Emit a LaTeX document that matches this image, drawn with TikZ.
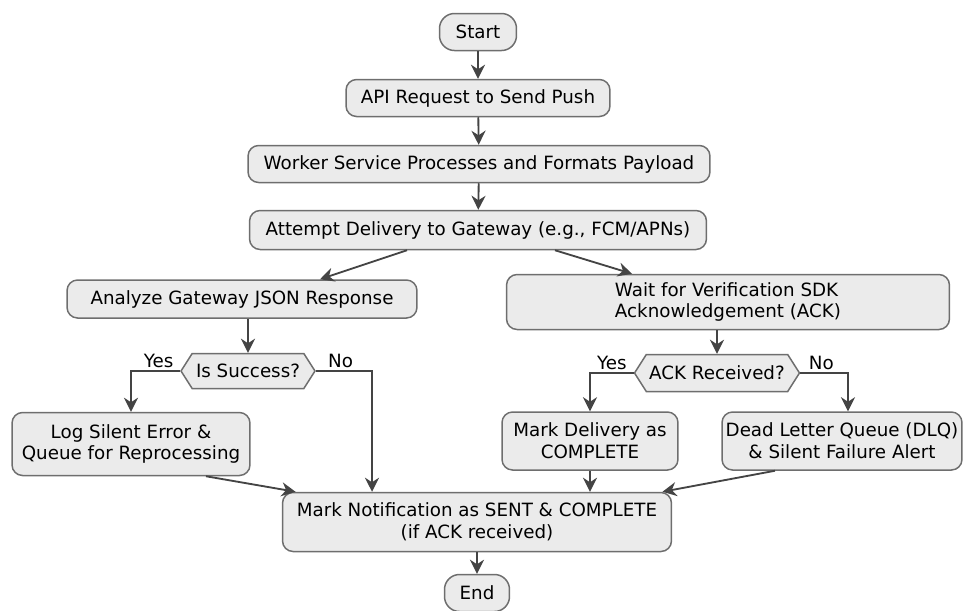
\documentclass[tikz,border=0pt]{standalone}
\usepackage{fontspec}
\setmainfont{DejaVu Sans}
\usetikzlibrary{arrows.meta,shapes.symbols}

\definecolor{boxfill}{HTML}{EBEBEB}
\definecolor{boxline}{HTML}{6E6E6E}
\definecolor{arrowline}{HTML}{444444}

\tikzset{
  stepbox/.style={draw=boxline, fill=boxfill, line width=0.85pt, rounded corners=6pt,
    align=center, inner sep=0pt},
  decision/.style={draw=boxline, fill=boxfill, line width=0.85pt, shape=signal,
    signal to=east and west, signal pointer angle=115, inner sep=0pt},
  flow/.style={draw=arrowline, line width=1.05pt, -{Stealth[length=8pt,width=8pt]}},
  branch/.style={above, inner sep=1.5pt}
}

\begin{document}
\begin{tikzpicture}[x=0.02cm, y=-0.02cm, font=\fontsize{10.4}{12.4}\selectfont]
        % Fix the page size
        \useasboundingbox (0,0) rectangle (965,610);

        % Main steps
        \node[stepbox, rounded corners=0.3cm, minimum width=1.54cm, minimum height=0.74cm] (start) at (478,32) {Start};
        \node[stepbox, minimum width=5.28cm, minimum height=0.74cm] (api) at (478,98) {API Request to Send Push};
        \node[stepbox, minimum width=9.24cm, minimum height=0.74cm] (worker) at (479,164) {Worker Service Processes and Formats Payload};
        \node[stepbox, minimum width=9.14cm, minimum height=0.78cm] (attempt) at (478,230) {Attempt Delivery to Gateway (e.g., FCM/APNs)};

        % Gateway branch
        \node[stepbox, minimum width=7.0cm, minimum height=0.76cm] (analyze) at (242,299) {Analyze Gateway JSON Response};
        \node[decision, minimum width=2.68cm, minimum height=0.7cm] (success) at (248,371) {Is Success?};
        \node[stepbox, minimum width=4.76cm, minimum height=1.26cm] (logerr) at (131,444) {Log Silent Error \&\\Queue for Reprocessing};

        % Verification branch
        \node[stepbox, align=left, minimum width=8.86cm, minimum height=1.1cm] (wait) at (728,302) {Wait for Verification SDK\\Acknowledgement (ACK)};
        \node[decision, minimum width=3.3cm, minimum height=0.74cm] (ack) at (717,373) {ACK Received?};
        \node[stepbox, minimum width=3.52cm, minimum height=1.16cm] (delivered) at (590,441) {Mark Delivery as\\COMPLETE};
        \node[stepbox, minimum width=4.8cm, minimum height=1.16cm] (dlq) at (842,441) {Dead Letter Queue (DLQ)\\\& Silent Failure Alert};

        % Final steps
        \node[stepbox, minimum width=7.78cm, minimum height=1.18cm] (marksent) at (477,522) {Mark Notification as SENT \& COMPLETE\\(if ACK received)};
        \node[stepbox, rounded corners=0.3cm, minimum width=1.3cm, minimum height=0.74cm] (end) at (477,593) {End};

        % Connectors
        \draw[flow] (start) -- (api);
        \draw[flow] (api) -- (worker);
        \draw[flow] (worker) -- (attempt);
        \draw[flow] ([xshift=-1.42cm]attempt.south) -- ([xshift=1.56cm]analyze.north);
        \draw[flow] ([xshift=1.54cm]attempt.south) -- ([xshift=-1.92cm]wait.north);

        \draw[flow] (analyze.south -| success.north) -- (success.north);
        \draw[flow] (success.west) -| node[branch, pos=0.22] {Yes} (logerr.north);
        \draw[flow] (success.east) -| node[branch, pos=0.22] {No} ([xshift=-2.1cm]marksent.north);

        \draw[flow] (wait.south -| ack.north) -- (ack.north);
        \draw[flow] (ack.west) -| node[branch, pos=0.25] {Yes} (delivered.north);
        \draw[flow] (ack.east) -| node[branch, pos=0.22] {No} ([xshift=0.12cm]dlq.north);

        \draw[flow] ([xshift=1.5cm]logerr.south) -- ([xshift=-3.63cm]marksent.north);
        \draw[flow] (delivered.south) -- (delivered.south |- marksent.north);
        \draw[flow] ([xshift=-1.34cm]dlq.south) -- ([xshift=3.71cm]marksent.north);
        \draw[flow] (marksent) -- (end);
\end{tikzpicture}
\end{document}
